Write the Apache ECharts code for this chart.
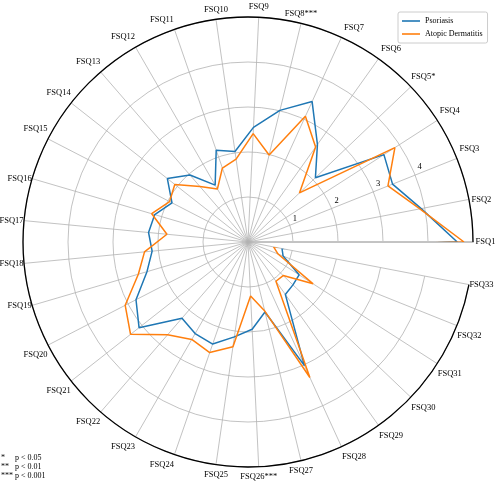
<!DOCTYPE html>
<html>
<head>
<meta charset="utf-8">
<script src="https://cdn.jsdelivr.net/npm/echarts@6/dist/echarts.min.js"></script>
<style>
  html, body { margin: 0; padding: 0; background: #fff; }
  #container { width: 496px; height: 484px; }
</style>
</head>
<body>
<div id="container"></div>
<script>
var categories = [
  "FSQ1", "FSQ2", "FSQ3", "FSQ4", "FSQ5*", "FSQ6", "FSQ7", "FSQ8***", "FSQ9", "FSQ10",
  "FSQ11", "FSQ12", "FSQ13", "FSQ14", "FSQ15", "FSQ16", "FSQ17", "FSQ18", "FSQ19", "FSQ20",
  "FSQ21", "FSQ22", "FSQ23", "FSQ24", "FSQ25", "FSQ26***", "FSQ27", "FSQ28", "FSQ29", "FSQ30",
  "FSQ31", "FSQ32", "FSQ33"
];
var psoriasis = [
  4.65, 3.92, 3.46, 3.59, 2.07, 2.66, 3.43, 3.01, 2.55, 2.03,
  2.16, 1.46, 1.97, 2.28, 1.90, 2.16, 2.22, 2.14, 2.34, 2.80,
  3.08, 2.24, 2.35, 2.40, 2.13, 1.94, 1.60, 3.02, 1.43, 1.38,
  1.35, 0.84, 0.77
];
var atopic = [
  4.80, 3.89, 3.35, 3.88, 1.58, 2.59, 3.07, 1.99, 2.41, 1.86,
  1.74, 1.36, 1.63, 2.07, 1.96, 2.23, 1.81, 2.31, 2.54, 3.07,
  3.32, 2.73, 2.50, 2.60, 2.35, 1.20, 1.58, 3.31, 1.07, 1.08,
  1.72, 0.72, 0.58
];
var seriesNames = ["Psoriasis", "Atopic Dermatitis"];
var footStars = ["*", "**", "***"];
var footText = ["p < 0.05", "p < 0.01", "p < 0.001"];

var dom = document.getElementById("container");
var myChart = echarts.init(dom);
var font = "Liberation Serif";

// polar line needs the first point again to close the shape
function closed(values) {
  var pts = values.map(function (v, i) { return [v, i]; });
  pts.push([values[0], 0]);
  return pts;
}

var option = {
  animation: false,
  backgroundColor: "#fff",
  title: [
    {
      text: footStars.join("\n"),
      left: 1, bottom: 4,
      padding: 0,
      textStyle: { fontFamily: font, fontSize: 8, fontWeight: "normal", color: "#000", lineHeight: 9 }
    },
    {
      text: footText.join("\n"),
      left: 15, bottom: 4,
      padding: 0,
      textStyle: { fontFamily: font, fontSize: 8, fontWeight: "normal", color: "#000", lineHeight: 9 }
    }
  ],
  legend: {
    data: seriesNames,
    orient: "vertical",
    left: 398, top: 12,
    padding: [4, 5, 4, 4],
    itemGap: 3,
    itemWidth: 18,
    itemHeight: 1.6,
    icon: "rect",
    borderColor: "#cccccc",
    borderWidth: 1,
    borderRadius: 2,
    textStyle: { fontFamily: font, fontSize: 8, color: "#000", lineHeight: 10 }
  },
  polar: [
    { center: ["50%", "50%"], radius: 225 },
    { center: ["50%", "50%"], radius: 225 }
  ],
  angleAxis: [
    {
      polarIndex: 0,
      type: "category",
      data: categories,
      boundaryGap: false,
      startAngle: 0,
      clockwise: false,
      axisLine: { lineStyle: { color: "#000", width: 1.3 } },
      axisTick: { show: false, interval: 0 },
      axisLabel: {
        interval: 0,
        hideOverlap: false,
        margin: 0,
        formatter: function (v) { return "{c|" + v + "}"; },
        rich: {
          c: { fontFamily: font, fontSize: 8.5, color: "#000", width: 25, lineHeight: 20, align: "center" }
        }
      },
      splitLine: { show: true, interval: 0, lineStyle: { color: "#b3b3b3", width: 0.8 } },
      z: 1
    },
    {
      polarIndex: 1,
      type: "value",
      min: 0, max: 360,
      startAngle: 22.5,
      show: false
    }
  ],
  radiusAxis: [
    {
      polarIndex: 0,
      type: "value",
      min: 0, max: 5, interval: 1,
      axisLine: { show: true, lineStyle: { color: "#cfcfcf", width: 2.2 } },
      axisTick: { show: false },
      axisLabel: { show: false },
      splitLine: { show: true, lineStyle: { color: "#b3b3b3", width: 0.8 } }
    },
    {
      polarIndex: 1,
      type: "value",
      min: 0, max: 5, interval: 1,
      axisLine: { show: false },
      axisTick: { show: false },
      splitLine: { show: false },
      axisLabel: {
        fontFamily: font, fontSize: 8.5, color: "#000",
        margin: 2,
        align: "left", verticalAlign: "bottom",
        padding: [0, 0, 0, 4],
        showMinLabel: false, showMaxLabel: false,
        formatter: function (v) { return v > 0 && v < 5 ? String(v) : ""; }
      }
    }
  ],
  series: [
    {
      name: seriesNames[0],
      type: "line",
      coordinateSystem: "polar",
      polarIndex: 0,
      showSymbol: false,
      data: closed(psoriasis),
      itemStyle: { color: "#1f77b4" },
      lineStyle: { color: "#1f77b4", width: 1.5 },
      z: 3
    },
    {
      name: seriesNames[1],
      type: "line",
      coordinateSystem: "polar",
      polarIndex: 0,
      showSymbol: false,
      data: closed(atopic),
      itemStyle: { color: "#ff7f0e" },
      lineStyle: { color: "#ff7f0e", width: 1.5 },
      z: 4
    }
  ]
};

myChart.setOption(option);
</script>
</body>
</html>
